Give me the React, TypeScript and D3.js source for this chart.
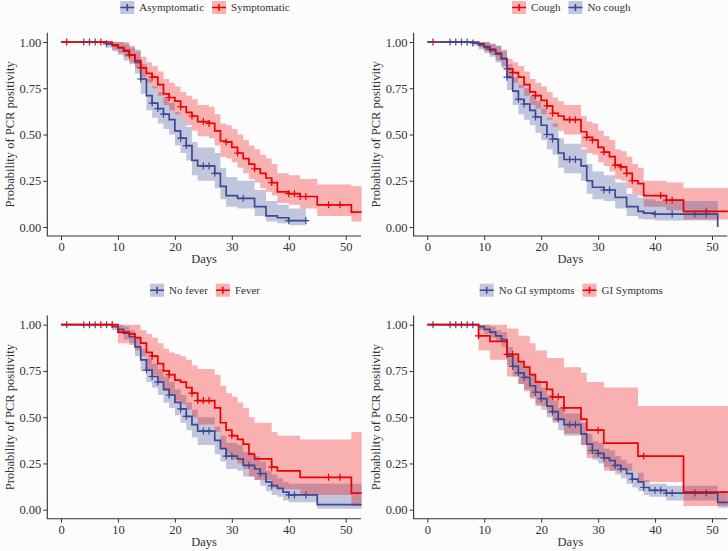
import { useEffect, useRef } from "react";
import * as d3 from "d3";

const W = 728, H = 551;
const BLUE = "#3B4992";
const RED = "#EE0000";
const FONT = "'Liberation Serif', 'DejaVu Serif', serif";
const INK = "#333333";

const X_TICKS = [0, 10, 20, 30, 40, 50];
const Y_TICKS = [0, 0.25, 0.5, 0.75, 1];

// panel 1: Asymptomatic vs Symptomatic
const asymT = [0, 8, 9, 10, 11, 12, 13, 14, 15, 16, 17, 18, 19, 20, 21, 22, 23, 24, 27, 28, 29, 31, 34, 36, 38, 40, 43];
const asymS = [1, .99, .98, .97, .95, .93, .89, .80, .71, .67, .64, .61, .58, .52, .48, .44, .36, .33, .29, .22, .17, .155, .11, .06, .05, .035, .035];
const asymLo = [1, .97, .95, .93, .90, .88, .83, .72, .63, .59, .56, .53, .50, .44, .40, .36, .28, .25, .21, .15, .11, .10, .06, .03, .02, .01, .01];
const asymHi = [1, 1, 1, 1, 1, .98, .96, .88, .80, .76, .73, .70, .67, .62, .58, .54, .46, .43, .40, .32, .27, .25, .20, .14, .12, .10, .10];
const asymCens = [4, 5, 6, 8, 14, 16, 17, 18, 21, 22, 25, 26, 27, 32, 40, 43];

const symT = [0, 9, 10, 11, 12, 13, 14, 15, 16, 17, 18, 19, 20, 21, 22, 23, 24, 26, 27, 28, 29, 30, 31, 32, 33, 34, 35, 36, 37, 38, 40, 42, 45, 51, 53];
const symS = [1, .985, .97, .955, .93, .90, .86, .83, .81, .77, .72, .70, .68, .65, .62, .60, .57, .56, .52, .465, .46, .43, .40, .37, .34, .315, .29, .265, .24, .19, .18, .165, .12, .08, .08];
const symLo = [1, .96, .94, .92, .89, .86, .81, .78, .75, .71, .66, .63, .61, .58, .55, .52, .49, .48, .44, .38, .37, .35, .32, .29, .26, .24, .21, .19, .17, .13, .12, .10, .06, .03, .03];
const symHi = [1, 1, 1, .99, .97, .95, .92, .89, .87, .84, .80, .78, .76, .73, .71, .69, .66, .65, .61, .56, .55, .53, .50, .47, .44, .42, .39, .37, .34, .29, .28, .26, .23, .22, .22];
const symCens = [1, 7, 12, 14, 16, 19, 21, 23, 25, 26, 29, 31, 34, 37, 40, 41, 42, 43, 47, 49];

// panel 2: Cough vs No cough
const coughT = [0, 9, 10, 11, 12, 13, 14, 15, 16, 17, 18, 19, 20, 21, 22, 23, 24, 27, 28, 29, 30, 31, 32, 33, 34, 35, 36, 37, 38, 42, 45, 53];
const coughS = [1, .99, .975, .96, .94, .91, .855, .835, .81, .77, .73, .71, .685, .655, .615, .60, .58, .515, .485, .47, .43, .405, .38, .335, .325, .29, .25, .235, .17, .145, .085, .085];
const coughLo = [1, .97, .95, .93, .90, .87, .80, .78, .75, .71, .66, .64, .61, .58, .54, .52, .50, .43, .40, .39, .35, .33, .30, .26, .25, .21, .18, .17, .11, .09, .04, .04];
const coughHi = [1, 1, 1, .99, .98, .95, .91, .89, .87, .84, .80, .78, .76, .73, .70, .68, .66, .60, .57, .56, .52, .49, .47, .42, .41, .38, .34, .32, .25, .24, .21, .21];
const coughCens = [1, 11, 14, 15, 19, 21, 22, 25, 26, 28, 29, 31, 33, 34, 35, 36, 41, 42, 43, 49];

const noCoughT = [0, 8, 9, 10, 11, 12, 13, 14, 15, 16, 17, 18, 19, 20, 21, 22, 23, 24, 27, 28, 29, 31, 33, 35, 37, 38, 40, 51];
const noCoughS = [1, .995, .985, .97, .955, .935, .91, .81, .735, .69, .665, .63, .595, .55, .50, .475, .40, .365, .33, .25, .215, .20, .16, .11, .085, .075, .07, 0];
const noCoughLo = [1, .98, .96, .94, .92, .89, .86, .74, .66, .61, .58, .55, .51, .47, .42, .39, .32, .29, .25, .18, .15, .14, .10, .06, .045, .04, .035, 0];
const noCoughHi = [1, 1, 1, 1, .99, .98, .96, .88, .81, .77, .75, .71, .68, .64, .59, .56, .48, .45, .42, .34, .30, .28, .24, .18, .16, .15, .14, 0];
const noCoughCens = [4, 5, 6, 7, 8, 14, 16, 17, 19, 21, 22, 25, 26, 31, 32, 40, 43, 47, 49];

// panel 3: No fever vs Fever
const noFeverT = [0, 9, 10, 11, 12, 13, 14, 15, 16, 17, 18, 19, 20, 21, 22, 23, 24, 27, 28, 29, 31, 32, 34, 35, 36, 37, 38, 39, 40, 45, 53];
const noFeverS = [1, .99, .975, .955, .935, .88, .81, .755, .72, .69, .65, .62, .58, .545, .505, .46, .425, .375, .33, .29, .275, .24, .22, .195, .15, .13, .115, .095, .08, .027, .027];
const noFeverLo = [1, .97, .95, .92, .90, .83, .75, .69, .66, .62, .58, .55, .51, .47, .43, .39, .35, .30, .26, .22, .21, .18, .16, .13, .10, .08, .07, .05, .04, .005, .005];
const noFeverHi = [1, 1, 1, .99, .97, .93, .87, .82, .79, .76, .72, .69, .65, .62, .58, .54, .50, .45, .40, .36, .35, .31, .29, .26, .21, .19, .17, .15, .14, .14, .14];
const noFeverCens = [1, 4, 5, 6, 8, 15, 16, 17, 19, 21, 22, 25, 26, 29, 30, 33, 35, 37, 40, 41, 43];

const feverT = [0, 10, 12, 13, 14, 15, 16, 17, 18, 19, 20, 21, 22, 23, 24, 27, 28, 29, 30, 31, 32, 33, 34, 37, 38, 42, 51, 53];
const feverS = [1, .96, .95, .93, .90, .85, .83, .79, .75, .73, .70, .69, .66, .63, .59, .55, .47, .43, .40, .38, .355, .30, .275, .23, .21, .175, .09, .09];
const feverLo = [1, .90, .89, .86, .83, .76, .73, .69, .64, .62, .59, .57, .54, .50, .46, .42, .33, .30, .27, .25, .22, .18, .16, .12, .11, .08, .02, .02];
const feverHi = [1, 1, 1, 1, .97, .95, .93, .90, .87, .85, .84, .83, .81, .78, .76, .73, .67, .63, .61, .58, .55, .50, .47, .42, .40, .38, .42, .42];
const feverCens = [7, 9, 16, 19, 23, 24, 25, 26, 30, 37, 47, 49];

// panel 4: No GI symptoms vs GI Symptoms
const noGiT = [0, 9, 10, 11, 12, 13, 14, 15, 16, 17, 18, 19, 20, 21, 22, 23, 24, 27, 28, 29, 30, 31, 32, 33, 34, 35, 36, 37, 38, 39, 42, 51, 53];
const noGiS = [1, .99, .975, .96, .94, .92, .83, .775, .74, .715, .67, .635, .60, .56, .53, .49, .46, .41, .355, .32, .305, .28, .265, .24, .22, .195, .165, .15, .12, .105, .09, .04, .04];
const noGiLo = [1, .97, .95, .93, .91, .88, .78, .72, .68, .65, .61, .57, .54, .50, .47, .43, .40, .35, .30, .27, .25, .23, .21, .19, .17, .14, .12, .10, .08, .07, .05, .01, .01];
const noGiHi = [1, 1, 1, .99, .97, .96, .88, .83, .80, .78, .73, .70, .66, .62, .59, .55, .52, .47, .41, .37, .36, .33, .32, .29, .27, .25, .21, .20, .16, .14, .13, .10, .10];
const noGiCens = [1, 4, 5, 6, 7, 8, 15, 16, 17, 19, 20, 22, 23, 25, 26, 29, 30, 31, 33, 34, 36, 38, 40, 41, 42, 43, 47, 49];

const giT = [0, 9, 11, 14, 16, 17, 18, 19, 21, 22, 24, 27, 28, 31, 37, 45, 53];
const giS = [1, .94, .91, .84, .80, .77, .73, .69, .65, .61, .55, .49, .43, .36, .29, .095, .095];
const giLo = [1, .86, .81, .72, .68, .64, .60, .56, .52, .48, .41, .35, .28, .21, .15, .02, .02];
const giHi = [1, 1, 1, .98, .94, .94, .90, .86, .82, .82, .77, .74, .69, .66, .56, .56, .56];
const giCens = [9, 14, 15, 22, 23, 24, 30, 38];

type Series = { name: string; color: string; t: number[]; s: number[]; lo: number[]; hi: number[]; cens: number[] };

const PANELS: Series[][] = [
  [
    { name: "Asymptomatic", color: BLUE, t: asymT, s: asymS, lo: asymLo, hi: asymHi, cens: asymCens },
    { name: "Symptomatic", color: RED, t: symT, s: symS, lo: symLo, hi: symHi, cens: symCens },
  ],
  [
    { name: "Cough", color: RED, t: coughT, s: coughS, lo: coughLo, hi: coughHi, cens: coughCens },
    { name: "No cough", color: BLUE, t: noCoughT, s: noCoughS, lo: noCoughLo, hi: noCoughHi, cens: noCoughCens },
  ],
  [
    { name: "No fever", color: BLUE, t: noFeverT, s: noFeverS, lo: noFeverLo, hi: noFeverHi, cens: noFeverCens },
    { name: "Fever", color: RED, t: feverT, s: feverS, lo: feverLo, hi: feverHi, cens: feverCens },
  ],
  [
    { name: "No GI symptoms", color: BLUE, t: noGiT, s: noGiS, lo: noGiLo, hi: noGiHi, cens: noGiCens },
    { name: "GI Symptoms", color: RED, t: giT, s: giS, lo: giLo, hi: giHi, cens: giCens },
  ],
];

type Pt = { t: number; s: number; lo: number; hi: number };

function survAt(se: Series, t: number) {
  let v = 1;
  se.t.forEach((tt, k) => { if (tt <= t) v = se.s[k]; });
  return v;
}

export default function App() {
  const ref = useRef<SVGSVGElement>(null);

  useEffect(() => {
    const svg = d3.select(ref.current);
    svg.selectAll("*").remove();
    svg.append("rect").attr("width", W).attr("height", H).attr("fill", "#FCFCFC");

    PANELS.forEach((series, i) => {
      const ox = (i % 2) * 366.3;
      const oy = Math.floor(i / 2) * 282.7;
      const left = ox + 47.3, right = Math.min(ox + 361, W);
      const top = oy + 32.75, bottom = oy + 236;
      const x = d3.scaleLinear().domain([0, 50]).range([ox + 61, ox + 345.7]);
      const y = d3.scaleLinear().domain([0, 1]).range([oy + 227, oy + 42]);

      const clipId = `clip-${i}`;
      svg.append("clipPath").attr("id", clipId)
        .append("rect").attr("x", left + 0.6).attr("y", top).attr("width", right - left).attr("height", bottom - top);

      const plot = svg.append("g").attr("clip-path", `url(#${clipId})`);
      const area = d3.area<Pt>().curve(d3.curveStepAfter)
        .x((d) => x(d.t)).y0((d) => y(d.lo)).y1((d) => y(d.hi));
      const line = d3.line<Pt>().curve(d3.curveStepAfter)
        .x((d) => x(d.t)).y((d) => y(d.s));

      const data = series.map((se) => se.t.map((t, k) => ({ t, s: se.s[k], lo: se.lo[k], hi: se.hi[k] })));

      series.forEach((se, k) => {
        plot.append("path").datum(data[k]).attr("d", area)
          .attr("fill", se.color).attr("fill-opacity", 0.3);
      });
      series.forEach((se, k) => {
        plot.append("path").datum(data[k]).attr("d", line)
          .attr("fill", "none").attr("stroke", se.color).attr("stroke-width", 1.7);
        plot.append("g").selectAll("path").data(se.cens).join("path")
          .attr("d", (c) => {
            const cx = x(c), cy = y(survAt(se, c));
            return `M${cx - 3.5},${cy}h7M${cx},${cy - 3.5}v7`;
          })
          .attr("stroke", se.color).attr("stroke-width", 1.2).attr("fill", "none");
      });

      // axes
      const xa = svg.append("g").attr("transform", `translate(0,${bottom})`)
        .call(d3.axisBottom(x).tickValues(X_TICKS).tickSize(4).tickPadding(2).tickFormat(d3.format("d")));
      const ya = svg.append("g").attr("transform", `translate(${left},0)`)
        .call(d3.axisLeft(y).tickValues(Y_TICKS).tickSize(4).tickPadding(2).tickFormat(d3.format(".2f")));
      [xa, ya].forEach((a) => {
        a.select(".domain").remove();
        a.selectAll("line").attr("stroke", INK);
        a.selectAll("text").attr("fill", INK).style("font-family", FONT).style("font-size", "12.5px");
      });
      svg.append("path").attr("d", `M${left},${top}V${bottom}H${right}`)
        .attr("fill", "none").attr("stroke", INK).attr("stroke-width", 1.1);

      svg.append("text").attr("x", (left + right) / 2).attr("y", bottom + 27)
        .attr("text-anchor", "middle").attr("fill", INK)
        .style("font-family", FONT).style("font-size", "12.5px").text("Days");
      svg.append("text")
        .attr("transform", `translate(${ox + 13.5},${(top + bottom) / 2}) rotate(-90)`)
        .attr("text-anchor", "middle").attr("fill", INK)
        .style("font-family", FONT).style("font-size", "12.5px").text("Probability of PCR positivity");

      // legend
      const leg = svg.append("g");
      const cy = oy + 7.5;
      const texts = series.map((se) => leg.append("text").attr("y", cy + 3.8).attr("fill", INK)
        .style("font-family", FONT).style("font-size", "11px").text(se.name));
      const widths = texts.map((t) => (t.node() as SVGTextElement).getComputedTextLength());
      const key = 14, gap = 5, sep = 8;
      const total = series.length * (key + gap) + d3.sum(widths) + sep * (series.length - 1);
      let cx = ox + 205 - total / 2;
      series.forEach((se, k) => {
        leg.append("rect").attr("x", cx).attr("y", cy - 6.5).attr("width", key).attr("height", 13)
          .attr("fill", se.color).attr("fill-opacity", 0.3);
        leg.append("path").attr("d", `M${cx},${cy}h${key}M${cx + key / 2},${cy - 3.5}v7`)
          .attr("stroke", se.color).attr("stroke-width", 1.5).attr("fill", "none");
        texts[k].attr("x", cx + key + gap);
        cx += key + gap + widths[k] + sep;
      });
    });
  }, []);

  return (
    <svg ref={ref} width={W} height={H}
      style={{ position: "absolute", left: 0, top: 0, display: "block" }} />
  );
}
